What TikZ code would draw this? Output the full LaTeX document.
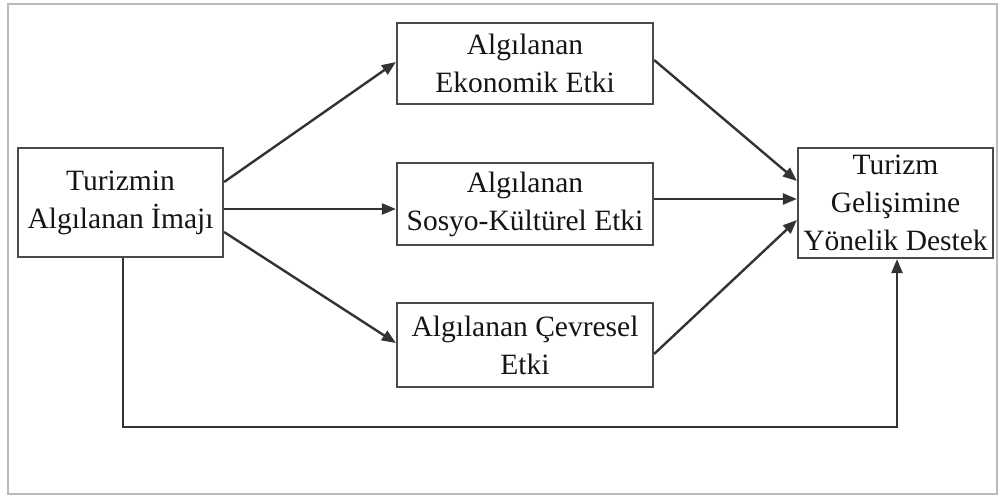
\documentclass[tikz,border=0pt]{standalone}
\usepackage{fontspec}
\setmainfont{Liberation Serif}
\usetikzlibrary{arrows.meta}
\definecolor{boxline}{HTML}{4A4A4A}
\definecolor{arrline}{HTML}{333333}
\definecolor{framecol}{HTML}{BBBBBB}
\definecolor{txt}{HTML}{151515}
\tikzset{
  box/.style={draw=boxline, line width=2.2pt, rectangle, inner sep=0pt, align=center,
    text=txt, font=\fontsize{29.5}{38}\selectfont},
  arr/.style={draw=arrline, line width=2.4pt, -{Triangle[length=14pt,width=11pt]}},
}
\begin{document}
\begin{tikzpicture}[x=1pt,y=-1pt]
\useasboundingbox (0,0) rectangle (1000,497);
\draw[framecol, line width=1.5pt] (8,4) rectangle (997,494);

\node[box, minimum width=205pt, minimum height=109pt] (L) at (120.5,202.5) {Turizmin\\Algılanan İmajı};
\node[box, minimum width=256pt, minimum height=81pt] (E) at (525,63.5) {Algılanan\\Ekonomik Etki};
\node[box, minimum width=256pt, minimum height=82pt] (S) at (525,204) {Algılanan\\Sosyo-Kültürel Etki};
\node[box, minimum width=256pt, minimum height=84pt] (C) at (525,345) {Algılanan Çevresel\\Etki};
\node[box, minimum width=195pt, minimum height=110pt] (R) at (895.5,203) {Turizm\\Gelişimine\\Yönelik Destek};

\coordinate (b) at (0,427);

\draw[arr] ([yshift=20.5pt]L.east) -- ([yshift=1.5pt]E.west);
\draw[arr] ([yshift=-6.5pt]L.east) -- ([yshift=-5pt]S.west);
\draw[arr] ([yshift=-29.5pt]L.east) -- ([yshift=2pt]C.west);
\draw[arr] ([yshift=3.5pt]E.east) -- ([yshift=22pt]R.west);
\draw[arr] ([yshift=5pt]S.east) -- ([yshift=4pt]R.west);
\draw[arr] ([yshift=-9pt]C.east) -- ([yshift=-17pt]R.west);
\draw[arr] ([xshift=2.5pt]L.south) -- ([xshift=2.5pt]L.south |- b) -| ([xshift=1.5pt]R.south);
\end{tikzpicture}
\end{document}
